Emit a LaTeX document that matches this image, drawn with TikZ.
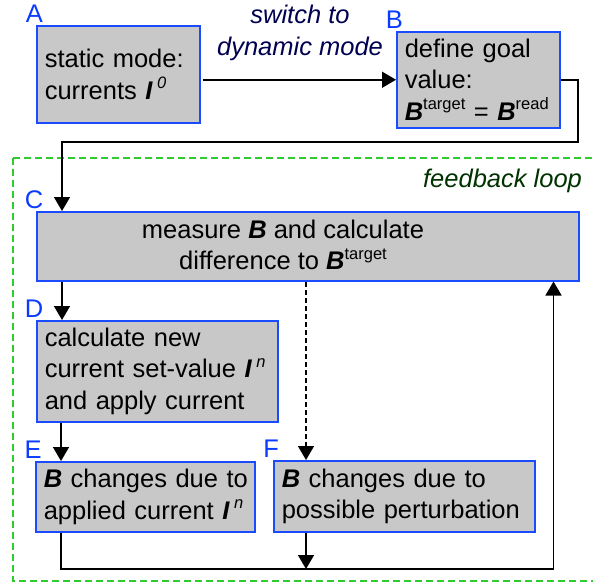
\documentclass[tikz,border=0pt]{standalone}
\usepackage{fontspec}
\setmainfont{Liberation Sans}
\usepackage{tikz}
\usetikzlibrary{arrows.meta,positioning}

\definecolor{boxgray}{HTML}{C8C8C8}
\definecolor{boxblue}{HTML}{1A4BFF}
\definecolor{lblblue}{HTML}{0A3CFF}
\definecolor{navytext}{HTML}{000050}
\definecolor{loopgreen}{HTML}{2ECC2E}
\definecolor{darkgreen}{HTML}{003300}

\newcommand{\vecB}{\textbf{\textit{B}}}
\newcommand{\vecI}{\textbf{\textit{I}}}
\newcommand{\supx}[1]{\raisebox{0.42em}{\fontsize{16.5}{16.5}\selectfont #1}}

\begin{document}
\begin{tikzpicture}[x=1pt, y=-1pt, ->, >={Triangle[width=16pt,length=14pt]}, line width=1.5pt,
                    block/.style={draw=boxblue, fill=boxgray, line width=1.5pt, inner xsep=8pt,
                                  inner ysep=0pt, anchor=north west, align=left},
                    lbl/.style={text=lblblue, inner sep=1pt, anchor=south, label distance=2pt}]
\tikzstyle{every node}=[font=\fontsize{25.5}{31.5}\selectfont]
\useasboundingbox (0,0) rectangle (593,584);

% feedback loop frame
\draw[-, loopgreen, line width=1.2pt, dash pattern=on 7pt off 4pt] (13,158) rectangle (600,581);
\node [anchor=east, text=darkgreen, font=\fontsize{25.5}{31.5}\selectfont\itshape] (fb) at (586,181) {feedback loop};

\node [block, text width=147pt, minimum height=97pt, label={[lbl]north west:A}] (A) at (36,25)
      {static mode:\\currents \vecI\,\supx{\itshape 0}};
\node [block, text width=147pt, minimum height=96pt, label={[lbl]north west:B}] (B) at (396,31)
      {define goal\\value:\\\mbox{\vecB\supx{target} = \vecB\supx{read}}};
\node [block, minimum width=542pt, minimum height=69pt, label={[lbl]north west:C}] (C) at (36,211) {};
\node [align=center] (Ctxt) at (283,245) {measure \vecB\ and calculate\\difference to \vecB\supx{target}};
\node [block, text width=225pt, minimum height=101pt, label={[lbl]north west:D}] (D) at (36,320)
      {calculate new\\current set-value \vecI\,\supx{\itshape n}\\and apply current};
\node [block, text width=203pt, minimum height=70pt, label={[lbl]north west:E}] (E) at (35,461)
      {\mbox{\vecB\ changes due to}\\\mbox{applied current \vecI\,\supx{\itshape n}}};
\node [block, text width=245pt, minimum height=71pt, label={[lbl]north west:F}] (F) at (273,460)
      {\vecB\ changes due to\\possible perturbation};

\node [align=center, text=navytext, font=\fontsize{25.5}{31.5}\selectfont\itshape] (sw) at (300,33)
      {switch to\\dynamic mode};

\coordinate (turn) at (578,142);
\coordinate (merge) at (306,569);

\path (A.east |- B.west) edge [shorten <=2pt] (B.west);
\draw (B.east) -| (turn) -| ([xshift=26pt]C.north west);
\path ([xshift=26pt]C.south west) edge ([xshift=26pt]D.north west);
\path ([xshift=25pt]D.south west) edge ([xshift=26pt]E.north west);
\path ([xshift=33pt]F.north west |- C.south) edge [dash pattern=on 5pt off 3pt] ([xshift=33pt]F.north west);
\path ([xshift=33pt]F.south west) edge (merge);
\draw [-] ([xshift=26pt]E.south west) |- (merge);
\draw (merge) -| ([xshift=-26pt]C.south east);
\end{tikzpicture}
\end{document}
